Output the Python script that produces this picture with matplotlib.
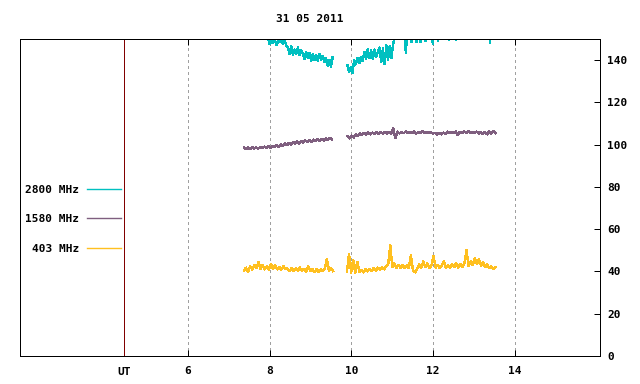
import matplotlib
matplotlib.use('Agg')
import matplotlib.pyplot as plt
import numpy as np

title = '31 05 2011'
labels = ['2800 MHz', '1580 MHz', '403 MHz']
colors = ['#00c0c0', '#7f5f7f', '#ffc020']
xticks = [6, 8, 10, 12, 14]
yticks = [0, 20, 40, 60, 80, 100, 120, 140]
ut_pos = 4.43

# 2800 MHz
f2800_a = [150, 147.5, 149.5, 148, 150, 147, 149, 148.5, 150, 147.5, 149, 147,
           146, 143, 146.5, 142.5, 145, 143, 146, 142.5, 144.5,
           143, 140.5, 144, 141, 143.5, 139.5, 143, 140, 142.5, 139.5, 143, 140, 142, 139,
           141, 137.5, 140, 137, 141.5]
f2800_b = [137.5, 134.5, 136.5, 134,
           140, 138, 141, 138.5, 141.5, 139.5,
           144, 140.5, 145, 141, 144.5, 140.5, 145, 141.5, 144,
           146, 139, 145.5, 138, 147, 140, 146.5, 141, 147.5,
           150.5, 152]
f2800_c_t = [11.10, 11.30, 11.33, 11.36, 11.45, 11.47, 11.49, 11.57, 11.59, 11.61,
             11.67, 11.69, 11.71, 11.79, 11.81, 11.83, 11.97, 11.99, 12.01, 12.10,
             12.12, 12.14, 12.37, 12.39, 12.41, 12.54, 12.56, 12.58, 13.37, 13.39,
             13.41, 13.52]
f2800_c = [152, 153, 143.5, 153, 153, 148.5, 153, 153, 148.5, 153,
           153, 148.5, 153, 153, 149, 153, 153, 147.5, 153, 153,
           149, 153, 153, 149.5, 153, 153, 149.5, 153, 153, 148.2,
           153, 153]

# 1580 MHz
f1580_a = [98.8, 97.9, 98.6, 98.0, 98.9, 98.2, 98.7, 98.1, 99.0, 98.3,
           99.1, 98.4, 99.3, 98.5,
           99.4, 98.8, 99.8, 99.0, 100.2, 99.4,
           100.5, 99.7, 100.9, 100.0, 101.3, 100.3, 101.6, 100.6, 101.8, 100.9,
           102.0, 101.2, 102.2, 101.4, 102.4, 101.6, 102.6, 101.9, 102.8, 102.0,
           103.0, 102.3, 103.3, 102.6]
f1580_b = [104.0, 103.0, 104.3, 103.4, 104.8, 104.0,
           105.4, 104.6, 105.6, 104.8, 105.8, 104.9, 105.7, 105.0, 106.0, 105.1,
           105.9, 105.2, 106.1, 105.3, 106.0, 105.2,
           107.6, 103.2,
           106.2, 105.3, 106.0, 105.4, 106.3, 105.5, 106.1, 105.4, 106.2, 105.3,
           106.0, 105.5, 106.3, 105.4, 106.1, 105.5, 106.0, 105.3,
           105.6, 104.8, 105.5, 104.9, 105.7, 105.0,
           106.2, 105.4, 106.0, 105.5, 106.3, 104.5, 106.1, 105.4, 106.2, 105.6,
           106.4, 105.5, 106.1, 105.4, 106.2, 105.3, 105.9, 105.0, 106.0, 104.9,
           106.3, 105.2, 106.5, 105.4]

# 403 MHz
f403_a = [40.5, 41.8, 39.6,
          42.5, 40.8, 43.2, 41.5, 44.3, 41.2, 43.0,
          41.0, 42.5, 40.9, 43.4, 41.3, 42.8, 41.0, 42.2, 40.8, 42.6, 41.1,
          41.4, 40.2, 41.6, 40.1, 41.5, 40.3, 41.8, 40.2, 41.3, 40.0, 42.5, 40.1,
          41.2, 39.8, 41.0, 39.9, 40.9, 40.1,
          41.2, 45.9, 40.4, 41.6, 40.2]
f403_b = [40.0, 48.3, 39.5, 45.4, 39.4, 44.6, 39.6, 40.8, 39.5, 41.0,
          40.0, 41.3, 40.2, 41.6, 40.5, 41.8, 40.8, 42.0, 41.0, 42.5,
          43.5, 52.5, 42.0, 43.8, 41.8, 43.2, 41.5, 43.0, 41.6, 42.8,
          41.5, 47.8, 40.5, 39.6, 41.0, 43.5, 41.5, 44.8, 42.0, 43.8,
          41.5, 43.0, 47.4, 41.8, 43.2, 41.5, 42.8, 45.0, 41.6, 43.0,
          41.8, 43.5, 42.0, 44.0, 41.8, 43.6, 42.0, 44.2, 50.0, 42.5,
          44.8, 43.0, 46.2, 43.5, 45.8, 42.8, 44.6, 42.0, 43.5, 41.5,
          42.5, 41.2, 42.0]

plt.rcParams['font.family'] = 'DejaVu Sans Mono'
plt.rcParams['font.weight'] = 'bold'
plt.rcParams['font.size'] = 8

fig = plt.figure(figsize=(6.4, 3.84), dpi=100)
ax = fig.add_axes([20 / 640, 28 / 384, 580 / 640, 317 / 384])

kw = dict(lw=1.0, antialiased=False)
h2800, = ax.plot(np.linspace(7.96, 9.54, len(f2800_a)), f2800_a, color=colors[0], **kw)
ax.plot(np.linspace(9.90, 11.10, len(f2800_b)), f2800_b, color=colors[0], **kw)
ax.plot(f2800_c_t, f2800_c, color=colors[0], **kw)
h1580, = ax.plot(np.linspace(7.37, 9.52, len(f1580_a)), f1580_a, color=colors[1], **kw)
ax.plot(np.linspace(9.90, 13.52, len(f1580_b)), f1580_b, color=colors[1], **kw)
h403, = ax.plot(np.linspace(7.37, 9.55, len(f403_a)), f403_a, color=colors[2], **kw)
ax.plot(np.linspace(9.89, 13.52, len(f403_b)), f403_b, color=colors[2], **kw)

for x in xticks:
    ax.axvline(x, color='#a0a0a0', lw=0.8, ls=(0, (2, 3)), zorder=0, antialiased=False)
ax.axvline(ut_pos, color='#800000', lw=0.72)

ax.set_xlim(1.89, 16.08)
ax.set_ylim(0, 150)
ax.set_xticks(xticks)
ax.set_yticks(yticks)
ax.yaxis.tick_right()
ax.tick_params(axis='x', direction='in', length=4, width=0.72, top=True, bottom=True, pad=7)
ax.tick_params(axis='y', direction='in', length=4, width=0.72, left=False, right=True, pad=5)
for s in ax.spines.values():
    s.set_color('black')
    s.set_linewidth(0.72)

ax.text(ut_pos, -0.035, 'UT', transform=ax.get_xaxis_transform(), ha='center', va='top')
fig.text(310 / 640, 1 - 19 / 384, title, ha='center', va='center')

ax.legend([h2800, h1580, h403], labels, loc='center right',
          bbox_to_anchor=(0.183, 0.432), frameon=False, markerfirst=False,
          handlelength=3.0, handletextpad=0.7, labelspacing=1.75, borderpad=0)

fig.savefig('out.png', dpi=100)
